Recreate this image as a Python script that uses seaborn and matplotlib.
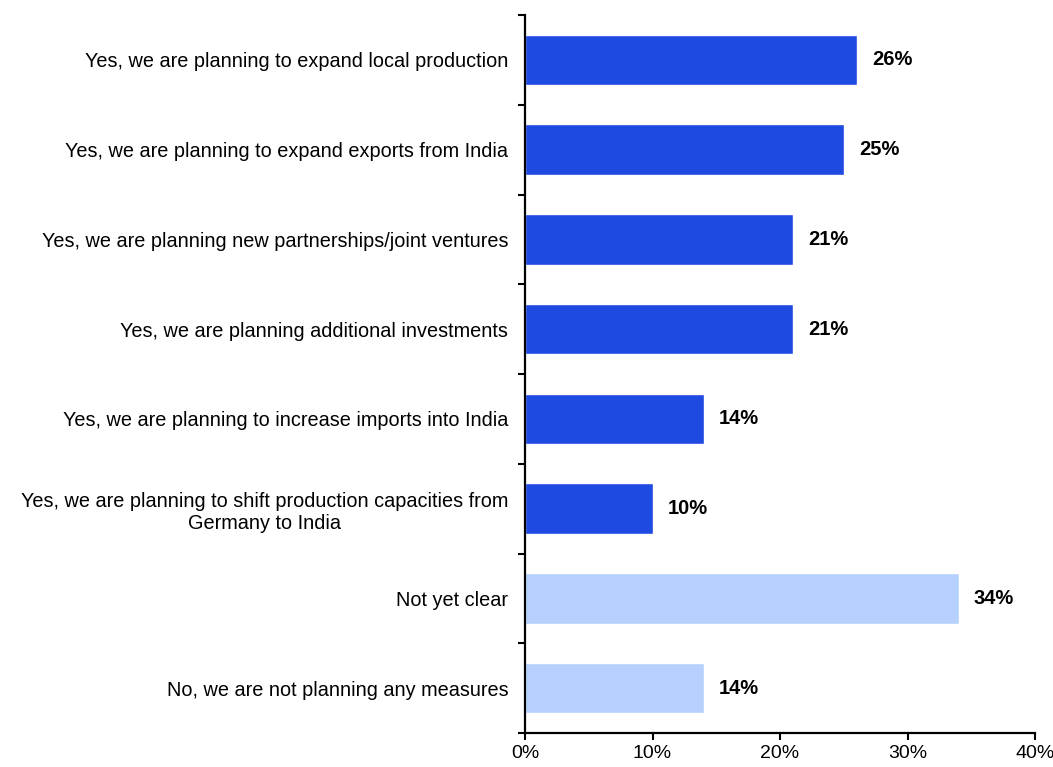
import matplotlib
matplotlib.use("Agg")
import matplotlib.pyplot as plt
import seaborn as sns
import pandas as pd
import numpy as np
from matplotlib.ticker import FuncFormatter, FixedLocator

categories = [
    "Yes, we are planning to expand local production",
    "Yes, we are planning to expand exports from India",
    "Yes, we are planning new partnerships/joint ventures",
    "Yes, we are planning additional investments",
    "Yes, we are planning to increase imports into India",
    "Yes, we are planning to shift production capacities from\nGermany to India",
    "Not yet clear",
    "No, we are not planning any measures",
]
values = [26, 25, 21, 21, 14, 10, 34, 14]
groups = ["yes", "yes", "yes", "yes", "yes", "yes", "other", "other"]
group_colors = {"yes": "#1F4AE1", "other": "#B5D0FD"}

sns.set_theme(style="white")
plt.rcParams["font.family"] = ["Liberation Sans", "DejaVu Sans"]

df = pd.DataFrame({"category": categories, "value": values, "group": groups})

fig = plt.figure(figsize=(10.53, 7.67), dpi=100)
ax = fig.add_axes([525 / 1053, 1 - 733 / 767, 510 / 1053, 718 / 767])

sns.barplot(data=df, y="category", x="value", hue="group", palette=group_colors,
            order=categories, dodge=False, width=0.56, legend=False, ax=ax,
            saturation=1)

ax.set_xlim(0, 40)
ax.set_ylim(len(categories) - 0.5, -0.5)
ax.set_xticks([0, 10, 20, 30, 40])
ax.xaxis.set_major_formatter(FuncFormatter(lambda v, p: f"{v:.0f}%"))
ax.set_xlabel("")
ax.set_ylabel("")

# category labels sit centred on each bar, tick marks between bars
ax.set_yticks(range(len(categories)))
ax.set_yticklabels(categories, multialignment="center")
ax.yaxis.set_minor_locator(FixedLocator(np.arange(-0.5, len(categories), 1.0)))
ax.tick_params(axis="y", which="major", length=0, pad=12, labelsize=14.3, colors="black")
ax.tick_params(axis="y", which="minor", left=True, length=5, width=1.5, color="black")
ax.tick_params(axis="x", which="major", bottom=True, length=5, width=1.5,
               color="black", labelsize=14, labelcolor="black", pad=4)

for s in ["top", "right"]:
    ax.spines[s].set_visible(False)
for s in ["left", "bottom"]:
    ax.spines[s].set_color("black")
    ax.spines[s].set_linewidth(1.6)

for i, v in enumerate(values):
    ax.annotate(f"{v}%", xy=(v, i), xytext=(11, 0), textcoords="offset points",
                va="center", ha="left", fontsize=14.5, fontweight="bold", color="black")

fig.savefig("out.png", dpi=100)
